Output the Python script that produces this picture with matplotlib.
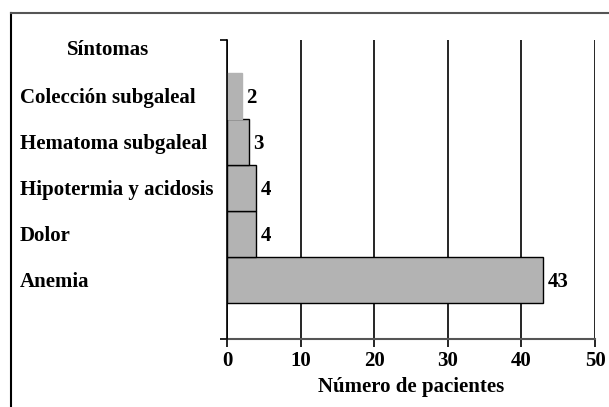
import matplotlib.pyplot as plt
from matplotlib.lines import Line2D

sintomas = ['Anemia', 'Dolor', 'Hipotermia y acidosis', 'Hematoma subgaleal', 'Colección subgaleal']
pacientes = [43, 4, 4, 3, 2]
xticks = [0, 10, 20, 30, 40, 50]

plt.rcParams['font.family'] = 'Liberation Serif'
plt.rcParams['font.weight'] = 'bold'
fs = 15

fig = plt.figure(figsize=(6.09, 4.07), dpi=100)
ax = fig.add_axes([227 / 609, 1 - 339 / 407, (595 - 227) / 609, (339 - 40) / 407])

pos = list(range(len(sintomas)))
edges = ['black'] * (len(sintomas) - 1) + ['#b3b3b3']
ax.barh(pos, pacientes, height=1.0, color='#b3b3b3', edgecolor=edges, linewidth=1.0, zorder=3)

for p, v in zip(pos, pacientes):
    ax.text(v + 0.6, p - 0.04, str(v), va='center', ha='left', fontsize=fs, fontweight='bold')

ax.set_xlim(0, 50)
ax.set_ylim(-1.28, 5.22)
ax.set_xticks(xticks)
ax.set_xticklabels([str(t) for t in xticks], fontsize=fs, fontweight='bold')
ax.set_yticks([-1.28, 5.22])
ax.set_yticklabels([])
ax.tick_params(axis='x', direction='out', length=6, width=1.2, pad=3)
ax.tick_params(axis='y', direction='out', length=5, width=1.2)
ax.grid(axis='x', color='black', linewidth=1.2, zorder=1)
ax.spines['top'].set_visible(False)
ax.spines['right'].set_visible(False)
ax.spines['left'].set_linewidth(1.2)
ax.spines['left'].set_zorder(4)
ax.spines['bottom'].set_linewidth(1.5)
ax.spines['bottom'].set_color('#555555')
ax.set_xlabel('Número de pacientes', fontsize=fs, fontweight='bold', labelpad=4)

# etiquetas de categoria a la izquierda
for p, s in zip(pos, sintomas):
    y = ax.transData.transform((0, p - 0.04))[1]
    fig.text(20 / 609, y / fig.dpi / fig.get_figheight(), s, ha='left', va='center',
             fontsize=fs, fontweight='bold')
y = ax.transData.transform((0, 5))[1]
fig.text(67 / 609, y / fig.dpi / fig.get_figheight(), 'Síntomas', ha='left', va='center',
         fontsize=fs, fontweight='bold')

# marco superior e izquierdo
fig.add_artist(Line2D([11 / 609, 11 / 609], [0, 1 - 13 / 407], color='black', linewidth=1.5))
fig.add_artist(Line2D([11 / 609, 1], [1 - 13 / 407, 1 - 13 / 407], color='#555555', linewidth=1.5))

fig.savefig('out.png', dpi=100)
